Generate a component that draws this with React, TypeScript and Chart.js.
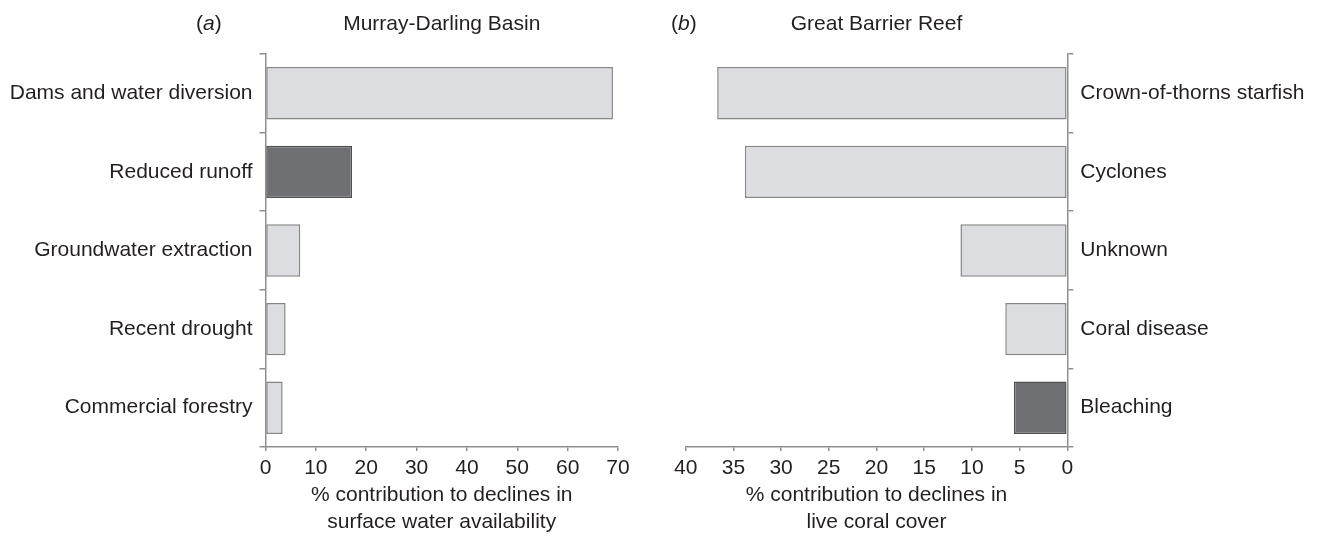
import React, { useEffect, useRef } from "react";
import { Chart, registerables } from "chart.js";

Chart.register(...registerables);

const FONT = '"Liberation Sans", Arial, Helvetica, sans-serif';

// Panel (a): Murray-Darling Basin
const mdbCategories = [
  "Dams and water diversion",
  "Reduced runoff",
  "Groundwater extraction",
  "Recent drought",
  "Commercial forestry",
];
const mdbValues = [69.0, 17.2, 6.9, 4.0, 3.4];
const mdbDark = [false, true, false, false, false];
const mdbTicksMax = 70;
const mdbTickStep = 10;
const mdbXTitle = ["% contribution to declines in", "surface water availability"];

// Panel (b): Great Barrier Reef
const gbrCategories = [
  "Crown-of-thorns starfish",
  "Cyclones",
  "Unknown",
  "Coral disease",
  "Bleaching",
];
const gbrValues = [36.7, 33.8, 11.2, 6.5, 5.6];
const gbrDark = [false, false, false, false, true];
const gbrTicksMax = 40;
const gbrTickStep = 5;
const gbrXTitle = ["% contribution to declines in", "live coral cover"];

const TEXT = "#231f20";
const AXIS = "#8f8f8f";
const LIGHT_FILL = "#dcdde0";
const LIGHT_BORDER = "#858585";
const DARK_FILL = "#6f7074";
const DARK_BORDER = "#505050";

const headerPlugin = {
  id: "panelHeader",
  afterDraw(chart: any, _args: any, opts: any) {
    const { ctx, chartArea } = chart;
    ctx.save();
    ctx.fillStyle = TEXT;
    ctx.textBaseline = "alphabetic";
    const y = opts.baseline;
    ctx.font = `21px ${FONT}`;
    ctx.textAlign = "center";
    ctx.fillText(opts.title, (chartArea.left + chartArea.right) / 2, y);
    ctx.textAlign = "left";
    let x = opts.letterX;
    ctx.fillText("(", x, y);
    x += ctx.measureText("(").width;
    ctx.font = `italic 21px ${FONT}`;
    ctx.fillText(opts.letter, x, y);
    x += ctx.measureText(opts.letter).width;
    ctx.font = `21px ${FONT}`;
    ctx.fillText(")", x, y);
    ctx.restore();
  },
};

type PanelProps = {
  left: number;
  width: number;
  categories: string[];
  values: number[];
  dark: boolean[];
  max: number;
  step: number;
  xTitle: string[];
  reverse: boolean;
  title: string;
  letter: string;
  letterX: number;
  yWidth: number;
  padLeft: number;
  padRight: number;
};

function Panel(p: PanelProps) {
  const ref = useRef<HTMLCanvasElement>(null);
  useEffect(() => {
    if (!ref.current) return;
    const chart = new Chart(ref.current, {
      type: "bar",
      data: {
        labels: p.categories,
        datasets: [
          {
            data: p.values,
            backgroundColor: p.dark.map((d) => (d ? DARK_FILL : LIGHT_FILL)),
            borderColor: p.dark.map((d) => (d ? DARK_BORDER : LIGHT_BORDER)),
            borderWidth: 1.5,
            borderSkipped: false,
            barPercentage: 0.667,
            categoryPercentage: 1,
          },
        ],
      },
      options: {
        indexAxis: "y",
        responsive: false,
        animation: false,
        maintainAspectRatio: false,
        layout: { padding: { top: 54, left: p.padLeft, right: p.padRight, bottom: 0 } },
        plugins: {
          legend: { display: false },
          tooltip: { enabled: false },
          panelHeader: {
            title: p.title,
            letter: p.letter,
            letterX: p.letterX,
            baseline: 30,
          },
        } as any,
        scales: {
          y: {
            type: "category",
            position: p.reverse ? "right" : "left",
            offset: true,
            grid: {
              offset: true,
              drawOnChartArea: false,
              tickLength: 6,
              color: AXIS,
              lineWidth: 1.5,
            },
            border: { color: AXIS, width: 1.5 },
            ticks: { font: { family: FONT, size: 21 }, color: TEXT, padding: 7 },
            afterFit: (s: any) => {
              s.width = p.yWidth;
            },
          },
          x: {
            type: "linear",
            min: 0,
            max: p.max,
            reverse: p.reverse,
            grid: {
              drawOnChartArea: false,
              tickLength: 4,
              color: AXIS,
              lineWidth: 1.5,
            },
            border: { color: AXIS, width: 1.5 },
            ticks: {
              stepSize: p.step,
              font: { family: FONT, size: 21 },
              color: TEXT,
              padding: 5,
            },
            title: {
              display: true,
              text: p.xTitle,
              color: TEXT,
              font: { family: FONT, size: 21, lineHeight: 27 / 21 },
              padding: { top: 0, bottom: 0.5 },
            },
            afterFit: (s: any) => {
              s.height = 89;
            },
          },
        },
      } as any,
      plugins: [headerPlugin as any],
    });
    return () => chart.destroy();
  }, []);
  return (
    <div style={{ position: "absolute", left: p.left, top: 0, width: p.width, height: 536 }}>
      <canvas ref={ref} width={p.width} height={536} style={{ width: p.width, height: 536, display: "block" }} />
    </div>
  );
}

export default function App() {
  return (
    <div
      style={{
        position: "fixed",
        left: 0,
        top: 0,
        width: 1322,
        height: 536,
        background: "#ffffff",
        overflow: "hidden",
      }}
    >
      <Panel
        left={0}
        width={650}
        categories={mdbCategories}
        values={mdbValues}
        dark={mdbDark}
        max={mdbTicksMax}
        step={mdbTickStep}
        xTitle={mdbXTitle}
        reverse={false}
        title="Murray-Darling Basin"
        letter="a"
        letterX={196}
        yWidth={265.5}
        padLeft={0}
        padRight={32}
      />
      <Panel
        left={650}
        width={672}
        categories={gbrCategories}
        values={gbrValues}
        dark={gbrDark}
        max={gbrTicksMax}
        step={gbrTickStep}
        xTitle={gbrXTitle}
        reverse={true}
        title="Great Barrier Reef"
        letter="b"
        letterX={21}
        yWidth={254.7}
        padLeft={35.7}
        padRight={0}
      />
    </div>
  );
}
